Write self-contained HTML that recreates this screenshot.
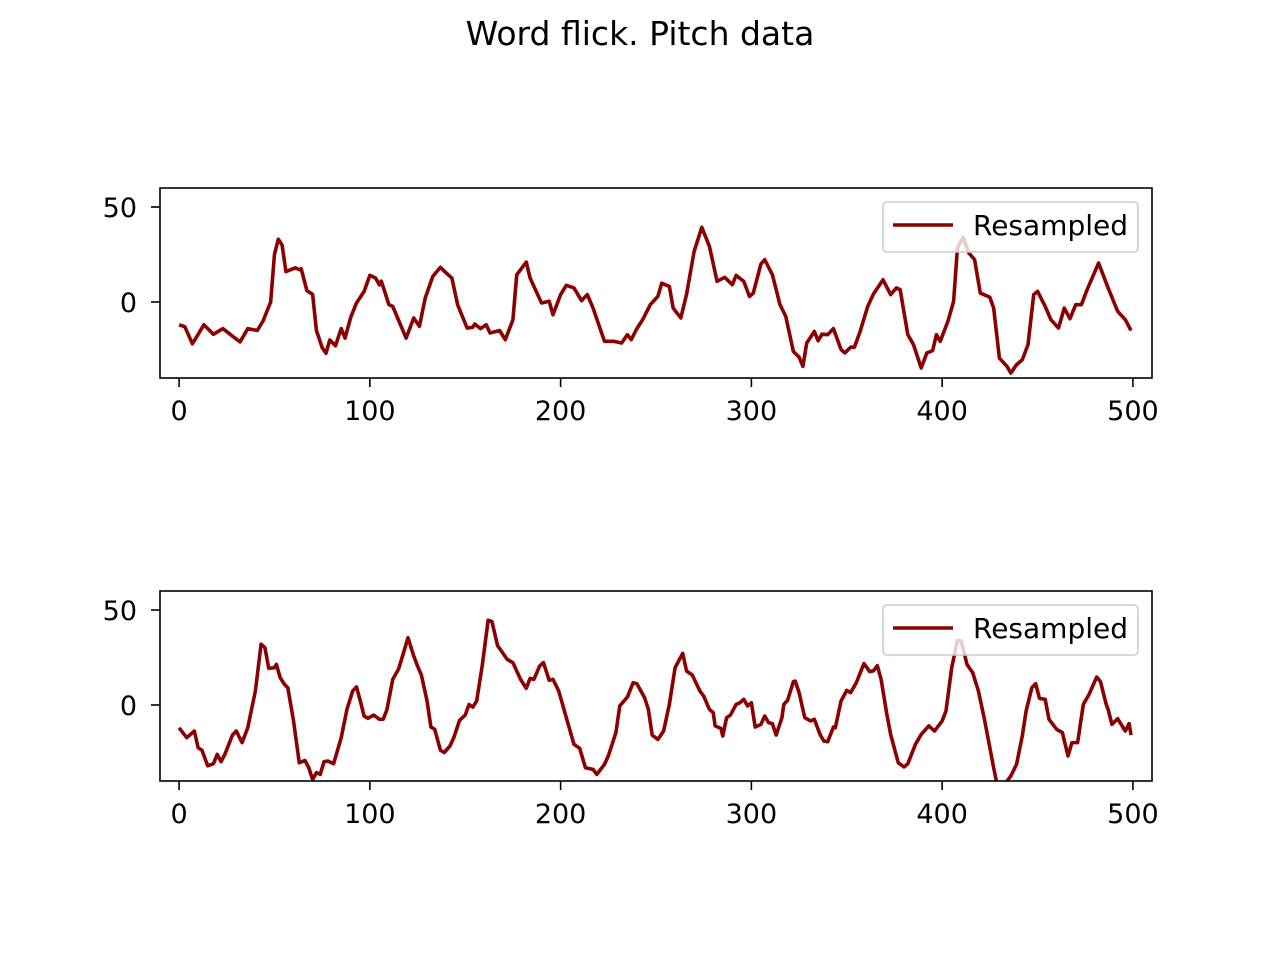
<!DOCTYPE html>
<html><head><meta charset="utf-8"><style>
html,body{margin:0;padding:0;background:#fff;}
svg text{font-family:"DejaVu Sans","Liberation Sans",sans-serif;fill:#000;}
</style></head><body>
<svg id="fig" width="1280" height="960" viewBox="0 0 1280 960" xmlns="http://www.w3.org/2000/svg">
<rect x="0" y="0" width="1280" height="960" fill="#fff"/>
<text x="640" y="45" font-size="33" text-anchor="middle">Word flick. Pitch data</text>
</svg>
<script>
const xTicks = [0, 100, 200, 300, 400, 500];
const yTicks = [0, 50];
const xDomain = [-10, 510];
const yDomain = [-40, 60];
const legendLabel = "Resampled";

const topX = [0,3,7,13,18,23,28,32,36,41,44,48,50,52,54,56,61,63,64,67,70,72,75,77,79,82,85,87,90,93,97,100,103,105,106,110,112,119,123,126,129,133,137,140,143,146,151,154,155,158,161,163,168,171,175,177,182,184,190,194,196,200,203,207,211,214,217,223,228,232,235,237,240,243,247,251,253,257,259,263,266,270,274,278,282,286,290,292,296,299,301,305,307,311,315,318,322,325,327,329,333,335,337,340,343,347,349,352,354,357,361,364,369,373,376,378,382,385,389,392,395,397,399,403,406,408,411,414,417,420,425,427,430,434,436,439,442,445,448,450,454,457,461,464,467,470,473,476,482,487,492,496,499];
const topY = [-12,-13,-22,-12,-17,-14,-18,-21,-14,-15,-10,0,25,33,30,16,18,17,17.5,6,4,-15,-24,-27,-20,-23,-14,-19,-8,-0.5,5.6,14,12.6,9,11,-1.4,-2.3,-19,-8.4,-12.8,2,13.5,18.3,15.3,12.6,-1.4,-13.7,-13.3,-11.6,-14,-12,-16.3,-15,-19.8,-9.3,14.3,21,12.6,-0.5,0.4,-6.7,3.9,8.8,7.4,0.7,3.9,-3.2,-20.7,-20.7,-21.6,-17.2,-19.8,-14,-9.3,-1.4,3,9.9,8.2,-3.2,-8.4,3.9,26.7,39.3,29.3,10.9,13,9.1,14,10.9,2.9,4.7,20,22.3,14.4,-1.4,-7.5,-26,-29,-33.9,-21.6,-15.5,-20.4,-16.9,-17.2,-14,-25,-26.8,-23.8,-23.8,-15.5,-2.3,4.2,11.7,3.9,7.4,6.5,-17.2,-22.5,-34.7,-26.8,-25.6,-17.2,-20.7,-10.2,0.3,28.4,34,25.8,22.3,4.7,2.5,-3.2,-29.5,-33.9,-37.4,-33,-30.4,-22.5,3.9,5.6,-2.3,-9.3,-13.7,-3.2,-8.8,-1.4,-1.4,6.5,20.5,7.4,-4.9,-9.3,-15];

const botX = [0,4,8,10,12,15,18,20,22,24,28,30,33,36,40,43,45,47,50,51,53,55,57,60,63,66,68,70,72,74,76,78,81,85,88,91,93,95,97,99,102,105,107,109,112,115,117,120,123,125,127,130,132,134,137,139,142,144,147,150,152,154,156,159,162,164,167,168,172,175,179,182,184,186,189,191,194,196,199,203,207,210,213,217,219,223,225,229,231,235,238,240,244,246,248,251,254,257,260,264,266,269,273,275,278,280,281,284,285,287,289,292,294,296,298,300,302,305,307,309,311,313,316,317,319,322,323,325,328,331,333,336,338,340,343,344,347,350,352,355,359,362,364,366,368,371,373,377,380,382,386,389,393,396,400,402,405,408,410,413,416,419,422,424,427,430,434,436,439,442,444,447,449,451,454,456,460,463,466,468,471,474,477,481,483,486,487,489,492,496,498,499];
const botY = [-12,-17.2,-13.7,-22.5,-23.8,-32,-30.9,-26,-29.8,-26,-15.8,-13.7,-19.8,-12,7.4,32,30.2,19.3,19.6,21.4,14.4,11.2,9.1,-8.4,-30.4,-29.2,-33,-39.3,-35.6,-36.5,-29.8,-29.5,-30.9,-17.2,-2.3,7.4,9.5,2.1,-5.8,-7,-5.3,-7.5,-7.5,-2.3,13.5,18.8,25.3,35.4,25.8,20.5,15.8,2.1,-11.6,-12.8,-23.8,-25,-21.6,-17.2,-8.1,-5.3,0.3,-1.1,2.1,21.4,44.6,43.9,31.1,29.8,24,22.3,13.5,8.8,14,13.5,20.5,22.3,13,13.5,7.4,-6.7,-20.7,-22.8,-33,-33.9,-36.5,-31.2,-26.8,-14.5,-0.5,4.2,11.7,11.2,3.9,-2.3,-15.8,-18.1,-13.7,0.3,19.6,27.2,17.9,15.8,7.4,4.7,-2.3,-4,-11,-12.3,-16.3,-6.7,-5.3,0.3,1.2,3,-0.5,1.2,-11.6,-10.2,-5.8,-9.3,-9.8,-15.8,-6.7,0.3,2.5,12.3,12.6,6.5,-6.7,-8.4,-7.5,-15.5,-19,-19.3,-11.6,-12,2.1,7.7,6.5,11.7,21.8,17.6,18,20.7,13.5,-4.9,-15.5,-30.4,-32.6,-30.9,-20.7,-15.5,-11,-13.7,-8.4,-3.2,19.6,34,33.7,21.4,17,7.4,-6.7,-17.2,-33,-48,-40,-37.4,-31.2,-16.3,-3.2,9.1,11.2,3.5,3,-7.5,-12.8,-14.5,-26.8,-19.8,-19.8,0.3,5.6,14.7,12.3,0.3,-2.3,-10.2,-7.2,-13.7,-9.8,-15.8];

const svg = document.getElementById('fig');
const NS = 'http://www.w3.org/2000/svg';
function mk(tag, attrs, parent) {
  const e = document.createElementNS(NS, tag);
  for (const k in attrs) e.setAttribute(k, attrs[k]);
  parent.appendChild(e);
  return e;
}

function drawPanel(idx, top, xs, ys) {
  const L = 160, R = 1152, T = top, B = top + 190;
  const sx = v => L + (v - xDomain[0]) / (xDomain[1] - xDomain[0]) * (R - L);
  const sy = v => B - (v - yDomain[0]) / (yDomain[1] - yDomain[0]) * (B - T);
  const g = mk('g', {}, svg);
  
  
  const cp = mk('clipPath', {id: 'clip' + idx}, g);
  mk('rect', {x: L, y: T, width: R - L, height: B - T}, cp);
  let d = '';
  for (let i = 0; i < xs.length; i++) d += (i ? 'L' : 'M') + sx(xs[i]).toFixed(2) + ' ' + sy(ys[i]).toFixed(2);
  const line = mk('path', {d: d, fill: 'none', stroke: '#8b0000', 'stroke-width': 3.6, 'stroke-linejoin': 'round', 'clip-path': 'url(#clip' + idx + ')'}, g);
  
  
  const frame = mk('rect', {x: L, y: T, width: R - L, height: B - T, fill: 'none', stroke: '#000', 'stroke-width': 1.6}, g);
  
  
  xTicks.forEach(t => {
    const x = sx(t);
    const tk = mk('line', {x1: x, x2: x, y1: B, y2: B + 9, stroke: '#000', 'stroke-width': 1.6}, g);
    
    
    const tx = mk('text', {x: x, y: B + 42, 'font-size': 27, 'text-anchor': 'middle'}, g);
    tx.textContent = t;
    
    
  });
  yTicks.forEach(t => {
    const y = sy(t);
    const tk = mk('line', {x1: L - 9, x2: L, y1: y, y2: y, stroke: '#000', 'stroke-width': 1.6}, g);
    
    
    const tx = mk('text', {x: L - 23, y: y + 10, 'font-size': 27, 'text-anchor': 'end'}, g);
    tx.textContent = t;
    
    
  });
  const lg = mk('g', {}, g);
  
  
  mk('rect', {x: 883, y: T + 14, width: 255, height: 50, rx: 4, fill: 'rgba(255,255,255,0.8)', stroke: '#cccccc', 'stroke-width': 1.6}, lg);
  mk('line', {x1: 893, x2: 953, y1: T + 37, y2: T + 37, stroke: '#8b0000', 'stroke-width': 3.6}, lg);
  const lt = mk('text', {x: 973, y: T + 47, 'font-size': 28}, lg);
  lt.textContent = legendLabel;
  
  
}
drawPanel(1, 188, topX, topY);
drawPanel(2, 591, botX, botY);
</script>
</body></html>
